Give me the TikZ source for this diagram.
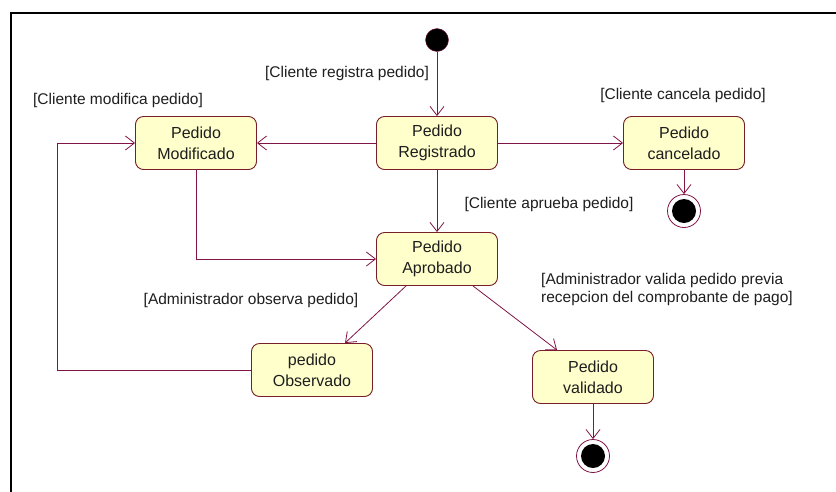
\documentclass[tikz,border=0pt]{standalone}
\usepackage{fontspec}
\setmainfont{Liberation Sans}
\usetikzlibrary{arrows.meta}
\definecolor{edgec}{RGB}{128,20,70}
\definecolor{boxc}{RGB}{120,30,40}
\definecolor{fillc}{RGB}{255,255,204}
\definecolor{txtc}{RGB}{30,30,30}
\tikzset{
  state/.style={draw=boxc, line width=0.9pt, fill=fillc, rounded corners=8pt,
    minimum width=121pt, minimum height=53pt, align=center, inner sep=0pt,
    text=txtc, font=\fontsize{16}{21}\selectfont},
  lbl/.style={font=\fontsize{15.5}{18}\selectfont, inner sep=0pt, text=txtc},
  conn/.style={draw=edgec, line width=0.8pt, -{Straight Barb[length=9pt,width=14pt]}},
  initst/.style={circle, fill=black, draw=edgec, minimum size=23pt, inner sep=0pt},
  finalst/.style={circle, draw=edgec, line width=0.8pt, minimum size=33pt, inner sep=0pt,
    path picture={\fill[black] (path picture bounding box.center) circle (12pt);}},
}
\begin{document}
\begin{tikzpicture}[x=1pt,y=-1pt]
\useasboundingbox (0,0) rectangle (836,491);
\draw[line width=2.5pt] (11,495) -- (11,13) -- (840,13);

\node[initst] (ini) at (437,40) {};
\node[state] (reg) at (437,143) {Pedido\\Registrado};
\node[state] (mod) at (196,143) {Pedido\\Modificado};
\node[state] (can) at (684,143) {Pedido\\cancelado};
\node[finalst] (fin1) at (684,211) {};
\node[state] (apr) at (437,259) {Pedido\\Aprobado};
\node[state] (obs) at (312,370) {pedido\\Observado};
\node[state] (val) at (593,377) {Pedido\\validado};
\node[finalst] (fin2) at (593,456) {};

\node[lbl] (l1) at (347,73) {[Cliente registra pedido]};
\node[lbl] (l2) at (118,100) {[Cliente modifica pedido]};
\node[lbl] (l3) at (683,95) {[Cliente cancela pedido]};
\node[lbl] (l4) at (549,204) {[Cliente aprueba pedido]};
\node[lbl] (l5) at (251,300) {[Administrador observa pedido]};
\node[lbl, align=left, anchor=west] (l6) at (541,289) {[Administrador valida pedido previa\\recepcion del comprobante de pago]};

\draw[conn] (ini) -- (reg);
\draw[conn] (reg) -- (mod);
\draw[conn] (reg) -- (can);
\draw[conn] (can) -- (fin1);
\draw[conn] (reg) -- (apr);
\draw[conn] (mod.south) |- (apr.west);
\draw[conn] ([xshift=-31pt]apr.south) -- ([xshift=33pt]obs.north);
\draw[conn] ([xshift=36pt]apr.south) -- ([xshift=-36pt]val.north);
\draw[conn] (obs.west) -- ++(-194,0) |- (mod.west);
\draw[conn] (val) -- (fin2);
\end{tikzpicture}
\end{document}
